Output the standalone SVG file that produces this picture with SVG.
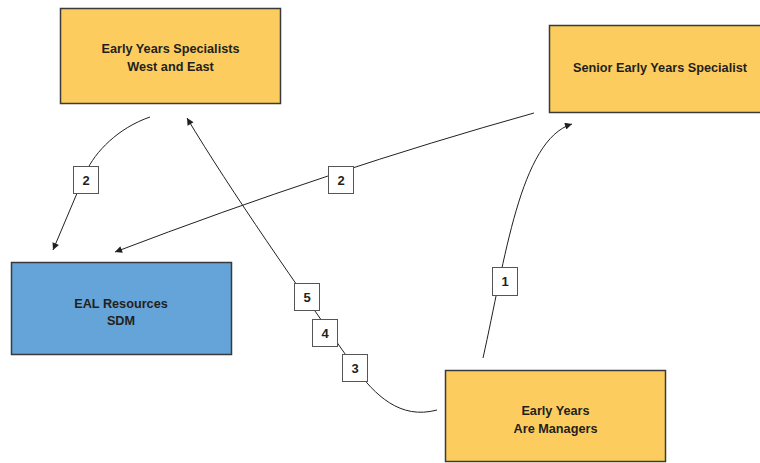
<svg xmlns="http://www.w3.org/2000/svg" width="760" height="463" viewBox="0 0 760 463">
<defs>
<style>
.box{stroke:#3a3a3a;stroke-width:1.5}
.y{fill:#fccd5e}
.b{fill:#65a4d8}
.t{font-family:"Liberation Sans",Arial,sans-serif;font-weight:bold;font-size:12.7px;fill:#231f20;text-anchor:middle}
.c{fill:none;stroke:#231f20;stroke-width:1}
.lb{fill:#fff;stroke:#555;stroke-width:1}
.n{font-family:"Liberation Sans",Arial,sans-serif;font-weight:bold;font-size:13px;fill:#231f20;text-anchor:middle}
</style>
<marker id="ah" viewBox="0 0 10 10" refX="10" refY="5" markerWidth="9" markerHeight="7" markerUnits="userSpaceOnUse" orient="auto">
<path d="M0,0 L10,5 L0,10 Z" fill="#231f20"/>
</marker>
</defs>
<rect width="760" height="463" fill="#fff"/>
<g id="connectors">
<path class="c" d="M483,358 C505,260 520,140 572,124" marker-end="url(#ah)"/>
<path class="c" d="M150,117 C118,128 95,152 86,172 L53,250" marker-end="url(#ah)"/>
<path class="c" d="M534,113 Q330,170 115,252" marker-end="url(#ah)"/>
<path class="c" d="M437,410 C400,420 375,395 355,368 C300,290 230,190 187,118" marker-end="url(#ah)"/>
</g>
<g id="labels">
<g id="lbl1"><rect class="lb" x="492.5" y="267.5" width="25" height="28"/><text class="n" x="505" y="286">1</text></g>
<g id="lbl2a"><rect class="lb" x="73.5" y="166.5" width="25" height="27"/><text class="n" x="86" y="185">2</text></g>
<g id="lbl2b"><rect class="lb" x="328.5" y="166.5" width="25" height="27"/><text class="n" x="341" y="185">2</text></g>
<g id="lbl5"><rect class="lb" x="294.5" y="283.5" width="25" height="27"/><text class="n" x="307" y="302">5</text></g>
<g id="lbl4"><rect class="lb" x="312.5" y="319.5" width="25" height="27"/><text class="n" x="325" y="338">4</text></g>
<g id="lbl3"><rect class="lb" x="342.5" y="354.5" width="25" height="27"/><text class="n" x="355" y="373">3</text></g>
</g>
<g id="node-specialists">
<rect class="box y" x="60.5" y="8.5" width="220" height="95"/>
<text class="t" x="170.5" y="53">Early Years Specialists</text>
<text class="t" x="170.5" y="71">West and East</text>
</g>
<g id="node-senior">
<rect class="box y" x="549.5" y="25.5" width="222" height="87"/>
<text class="t" x="660" y="72">Senior Early Years Specialist</text>
</g>
<g id="node-eal">
<rect class="box b" x="11.5" y="262.5" width="220" height="92"/>
<text class="t" x="121" y="308">EAL Resources</text>
<text class="t" x="121" y="325">SDM</text>
</g>
<g id="node-managers">
<rect class="box y" x="445.5" y="370.5" width="220" height="91"/>
<text class="t" x="555.5" y="415">Early Years</text>
<text class="t" x="555.5" y="433">Are Managers</text>
</g>
</svg>
